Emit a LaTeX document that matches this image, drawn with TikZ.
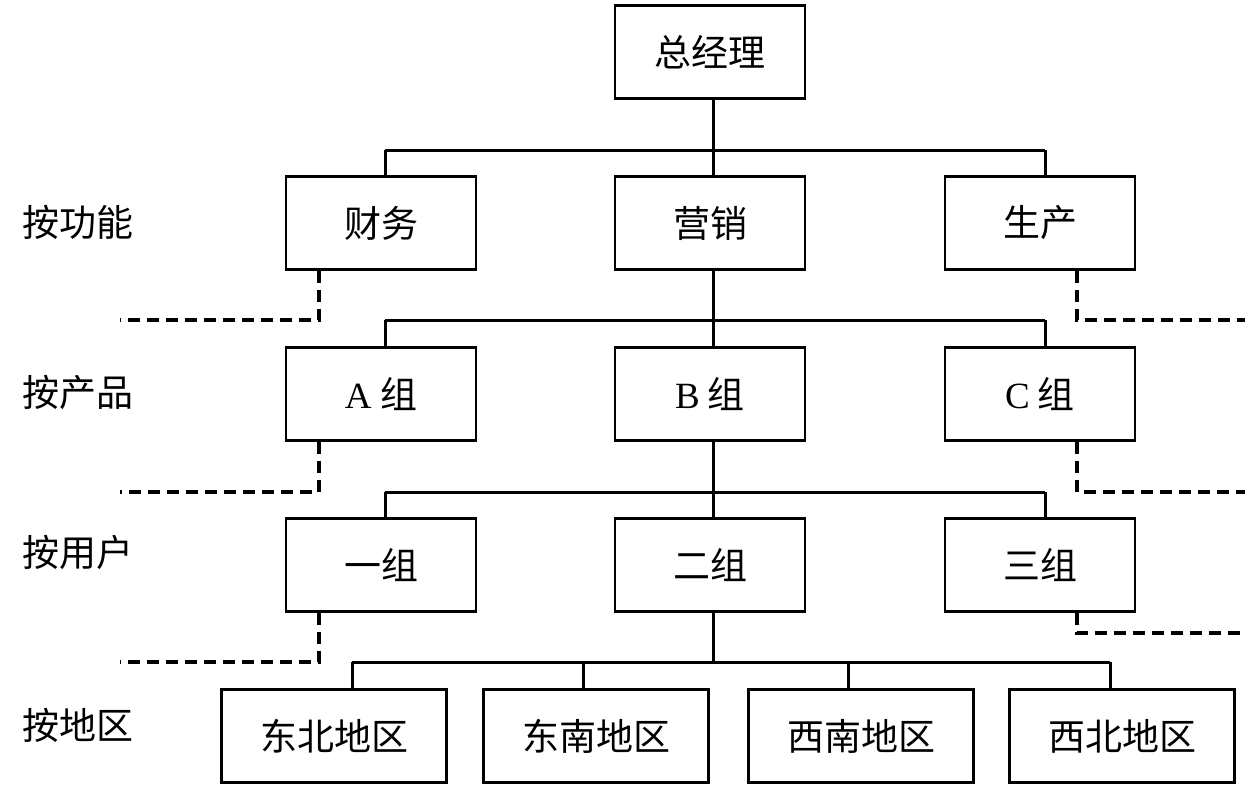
\documentclass[tikz,border=0pt]{standalone}
\usepackage{fontspec}
\setmainfont{Liberation Serif}
\newfontfamily\cjk{Noto Sans CJK SC}
\usetikzlibrary{calc}
\begin{document}
\begin{tikzpicture}[x=1pt,y=-1pt,
  box/.style={draw=black,line width=2.8pt,minimum width=190pt,minimum height=93pt,inner sep=0pt,font=\fontsize{37}{42}\selectfont\cjk},
  wbox/.style={box,minimum width=225pt},
  lbl/.style={inner sep=0pt,font=\fontsize{37}{42}\selectfont\cjk},
  conn/.style={line width=3pt},
  dconn/.style={line width=3.2pt,dash pattern=on 12pt off 7pt}]
\useasboundingbox (0,0) rectangle (1245,801);
% boxes
\node[box] (gm) at (710,52) {总经理};
\node[box] (f1) at (381,223) {财务};
\node[box] (f2) at (710,223) {营销};
\node[box] (f3) at (1040,223) {生产};
\node[box] (p1) at (381,394) {{\fontspec{Liberation Serif}A} 组};
\node[box] (p2) at (710,394) {{\fontspec{Liberation Serif}B} 组};
\node[box] (p3) at (1040,394) {{\fontspec{Liberation Serif}C} 组};
\node[box] (u1) at (381,565) {一组};
\node[box] (u2) at (710,565) {二组};
\node[box] (u3) at (1040,565) {三组};
\node[wbox] (r1) at (334,736) {东北地区};
\node[wbox] (r2) at (596,736) {东南地区};
\node[wbox] (r3) at (861,736) {西南地区};
\node[wbox] (r4) at (1122,736) {西北地区};
% row labels
\node[lbl] (l1) at (78,222) {按功能};
\node[lbl] (l2) at (78,392) {按产品};
\node[lbl] (l3) at (78,552) {按用户};
\node[lbl] (l4) at (78,725) {按地区};
% buses: left, middle, right drop points
\foreach \r/\y/\up/\a/\b/\c in {1/150/gm/f1/f2/f3, 2/320/f2/p1/p2/p3, 3/492/p2/u1/u2/u3}{
  \coordinate (L\r) at (385,\y);
  \coordinate (M\r) at (713,\y);
  \coordinate (R\r) at (1045,\y);
  \draw[conn] (M\r |- \up.south) -- (M\r);
  \draw[conn] (L\r) -- (R\r);
  \draw[conn] (L\r) -- (L\r |- \a.north);
  \draw[conn] (M\r) -- (M\r |- \b.north);
  \draw[conn] (R\r) -- (R\r |- \c.north);
}
\coordinate (b4) at (713,662);
\draw[conn] (b4 |- u2.south) -- (b4);
\coordinate (v1) at (352,662);
\coordinate (v2) at (583,662);
\coordinate (v3) at (848,662);
\coordinate (v4) at (1110,662);
\draw[conn] (v1) -- (v4);
\foreach \v/\n in {v1/r1,v2/r2,v3/r3,v4/r4}{\draw[conn] (\v) -- (\v |- \n.north);}
% dashed branches
\foreach \n/\y/\e in {f1/320/1, p1/492/2, u1/662/3}{
  \coordinate (dc\e) at (319,\y);
  \coordinate (dl\e) at (120,\y);
  \draw[dconn] (dc\e |- \n.south) -- (dc\e) -- (dl\e);
}
\foreach \n/\y/\e in {f3/320/1, p3/492/2, u3/633/3}{
  \coordinate (ec\e) at (1077,\y);
  \coordinate (dr\e) at (1245,\y);
  \draw[dconn] (ec\e |- \n.south) -- (ec\e) -- (dr\e);
}
\end{tikzpicture}
\end{document}
